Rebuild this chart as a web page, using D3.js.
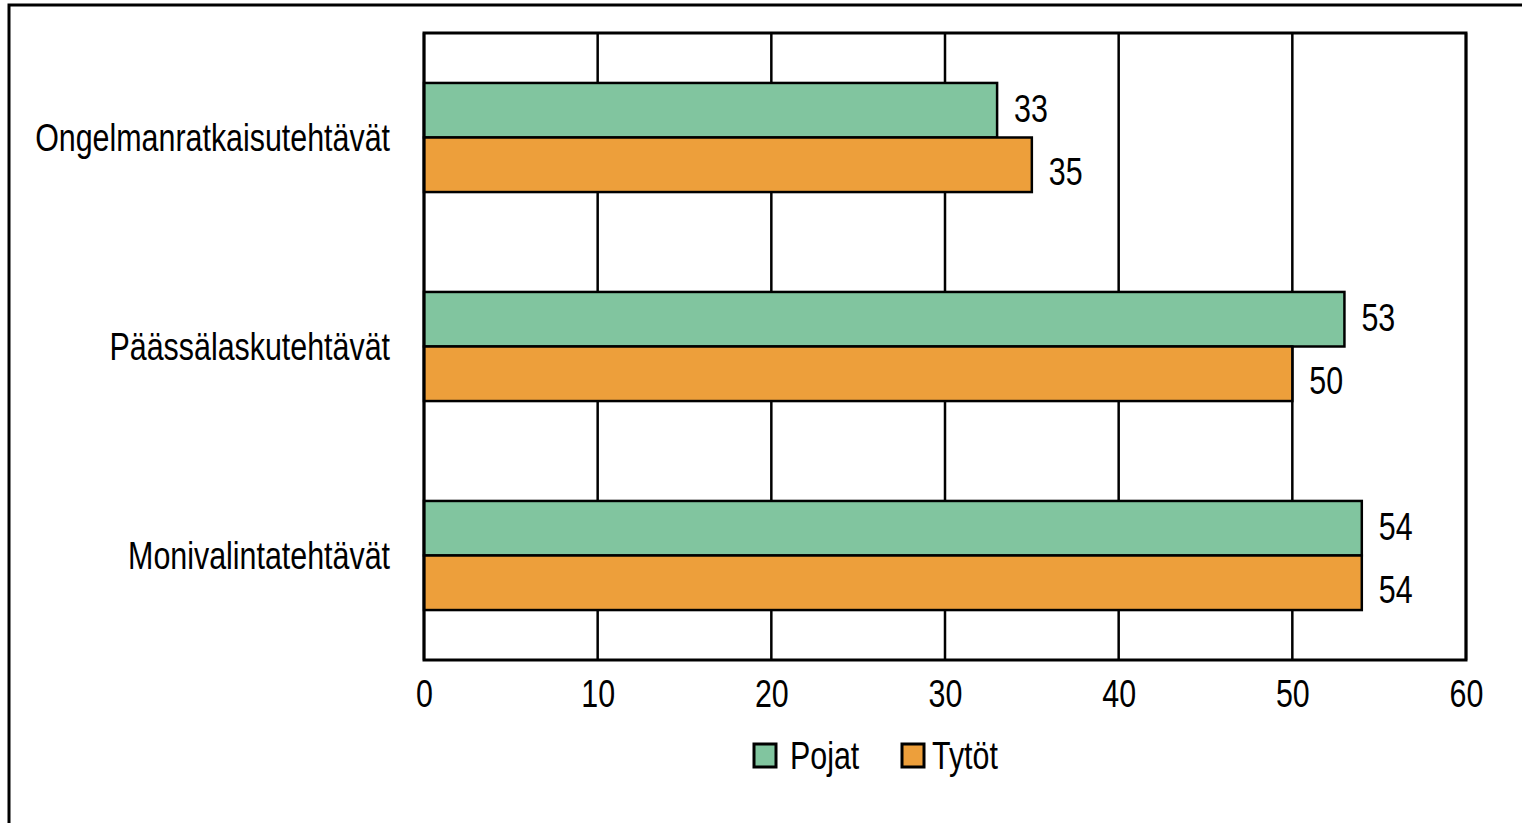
<!DOCTYPE html>
<html>
<head>
<meta charset="utf-8">
<script src="https://cdn.jsdelivr.net/npm/d3@7"></script>
<style>
  html, body { margin: 0; padding: 0; background: #fff; }
  svg { display: block; }
  text { font-family: "Liberation Sans", Arial, sans-serif; fill: #000; }
</style>
</head>
<body>
<svg id="chart" width="1522" height="823"></svg>
<script>
// Task types (top to bottom) and the share per group, %
const categories = ["Ongelmanratkaisutehtävät", "Päässälaskutehtävät", "Monivalintatehtävät"];
const seriesNames = ["Pojat", "Tytöt"];
const pojat = [33, 53, 54];
const tytot = [35, 50, 54];
const xTicks = [0, 10, 20, 30, 40, 50, 60];
const colors = ["#81c59f", "#ed9f3b"];

const svg = d3.select("#chart");
const W = 1522, H = 823;
const plot = { left: 424, top: 33, right: 1466, bottom: 660 };
const FS = 38;      // font size
const SX = 0.8;     // condensed look

// place a text at (px, py) with the condensed horizontal scale
const place = (px, py) => `translate(${px},${py}) scale(${SX},1)`;

// outer frame (runs off the right and bottom edges)
svg.append("rect")
  .attr("x", 9).attr("y", 5)
  .attr("width", W + 20).attr("height", H + 20)
  .attr("fill", "#fff").attr("stroke", "#000").attr("stroke-width", 3);

const x = d3.scaleLinear().domain([0, 60]).range([plot.left, plot.right]);
const y = d3.scaleBand().domain(categories).range([plot.top, plot.bottom])
  .paddingInner(0.478).paddingOuter(0.239);
const ySub = d3.scaleBand().domain(seriesNames).range([0, y.bandwidth()]);

// vertical gridlines
svg.append("g").selectAll("line").data(xTicks).join("line")
  .attr("x1", d => x(d)).attr("x2", d => x(d))
  .attr("y1", plot.top).attr("y2", plot.bottom)
  .attr("stroke", "#000").attr("stroke-width", 2.5);

// bars
const rows = categories.map((c, i) => ({ cat: c, values: [pojat[i], tytot[i]] }));
const groups = svg.append("g").selectAll("g").data(rows).join("g")
  .attr("transform", d => `translate(0,${y(d.cat)})`);

const cells = d => d.values.map((v, j) => ({ name: seriesNames[j], v, j }));

groups.selectAll("rect").data(cells).join("rect")
  .attr("x", x(0))
  .attr("y", d => ySub(d.name))
  .attr("width", d => x(d.v) - x(0))
  .attr("height", ySub.bandwidth())
  .attr("fill", d => colors[d.j])
  .attr("stroke", "#000").attr("stroke-width", 2.5);

// value labels
const labelShift = [-2, 7];
groups.selectAll("text").data(cells).join("text")
  .attr("transform", d => place(x(d.v) + 17, ySub(d.name) + ySub.bandwidth() / 2 + labelShift[d.j]))
  .attr("dy", "0.36em")
  .attr("font-size", FS)
  .text(d => d3.format("d")(d.v));

// plot frame
svg.append("rect")
  .attr("x", plot.left).attr("y", plot.top)
  .attr("width", plot.right - plot.left).attr("height", plot.bottom - plot.top)
  .attr("fill", "none").attr("stroke", "#000").attr("stroke-width", 3);

// category labels
svg.append("g").selectAll("text").data(categories).join("text")
  .attr("transform", d => place(390, y(d) + y.bandwidth() / 2))
  .attr("dy", "0.36em")
  .attr("text-anchor", "end")
  .attr("font-size", FS)
  .text(d => d);

// x axis labels
const xAxis = d3.axisBottom(x).tickValues(xTicks).tickSize(0).tickPadding(0).tickFormat(d3.format("d"));
const ax = svg.append("g").attr("transform", `translate(0,${plot.bottom + 20})`).call(xAxis);
ax.select(".domain").remove();
ax.selectAll("text")
  .attr("font-size", FS)
  .attr("font-family", null)
  .attr("dy", "0.71em")
  .attr("transform", `scale(${SX},1)`);

// legend
const legend = svg.append("g").attr("transform", "translate(754,744)");
const items = [{ name: "Pojat", x: 0, tx: 36 }, { name: "Tytöt", x: 148, tx: 178 }];
items.forEach((it, j) => {
  legend.append("rect")
    .attr("x", it.x).attr("y", 0).attr("width", 22).attr("height", 23)
    .attr("fill", colors[j]).attr("stroke", "#000").attr("stroke-width", 3);
  legend.append("text")
    .attr("transform", place(it.tx, 11.5))
    .attr("dy", "0.36em")
    .attr("font-size", FS)
    .text(it.name);
});
</script>
</body>
</html>
